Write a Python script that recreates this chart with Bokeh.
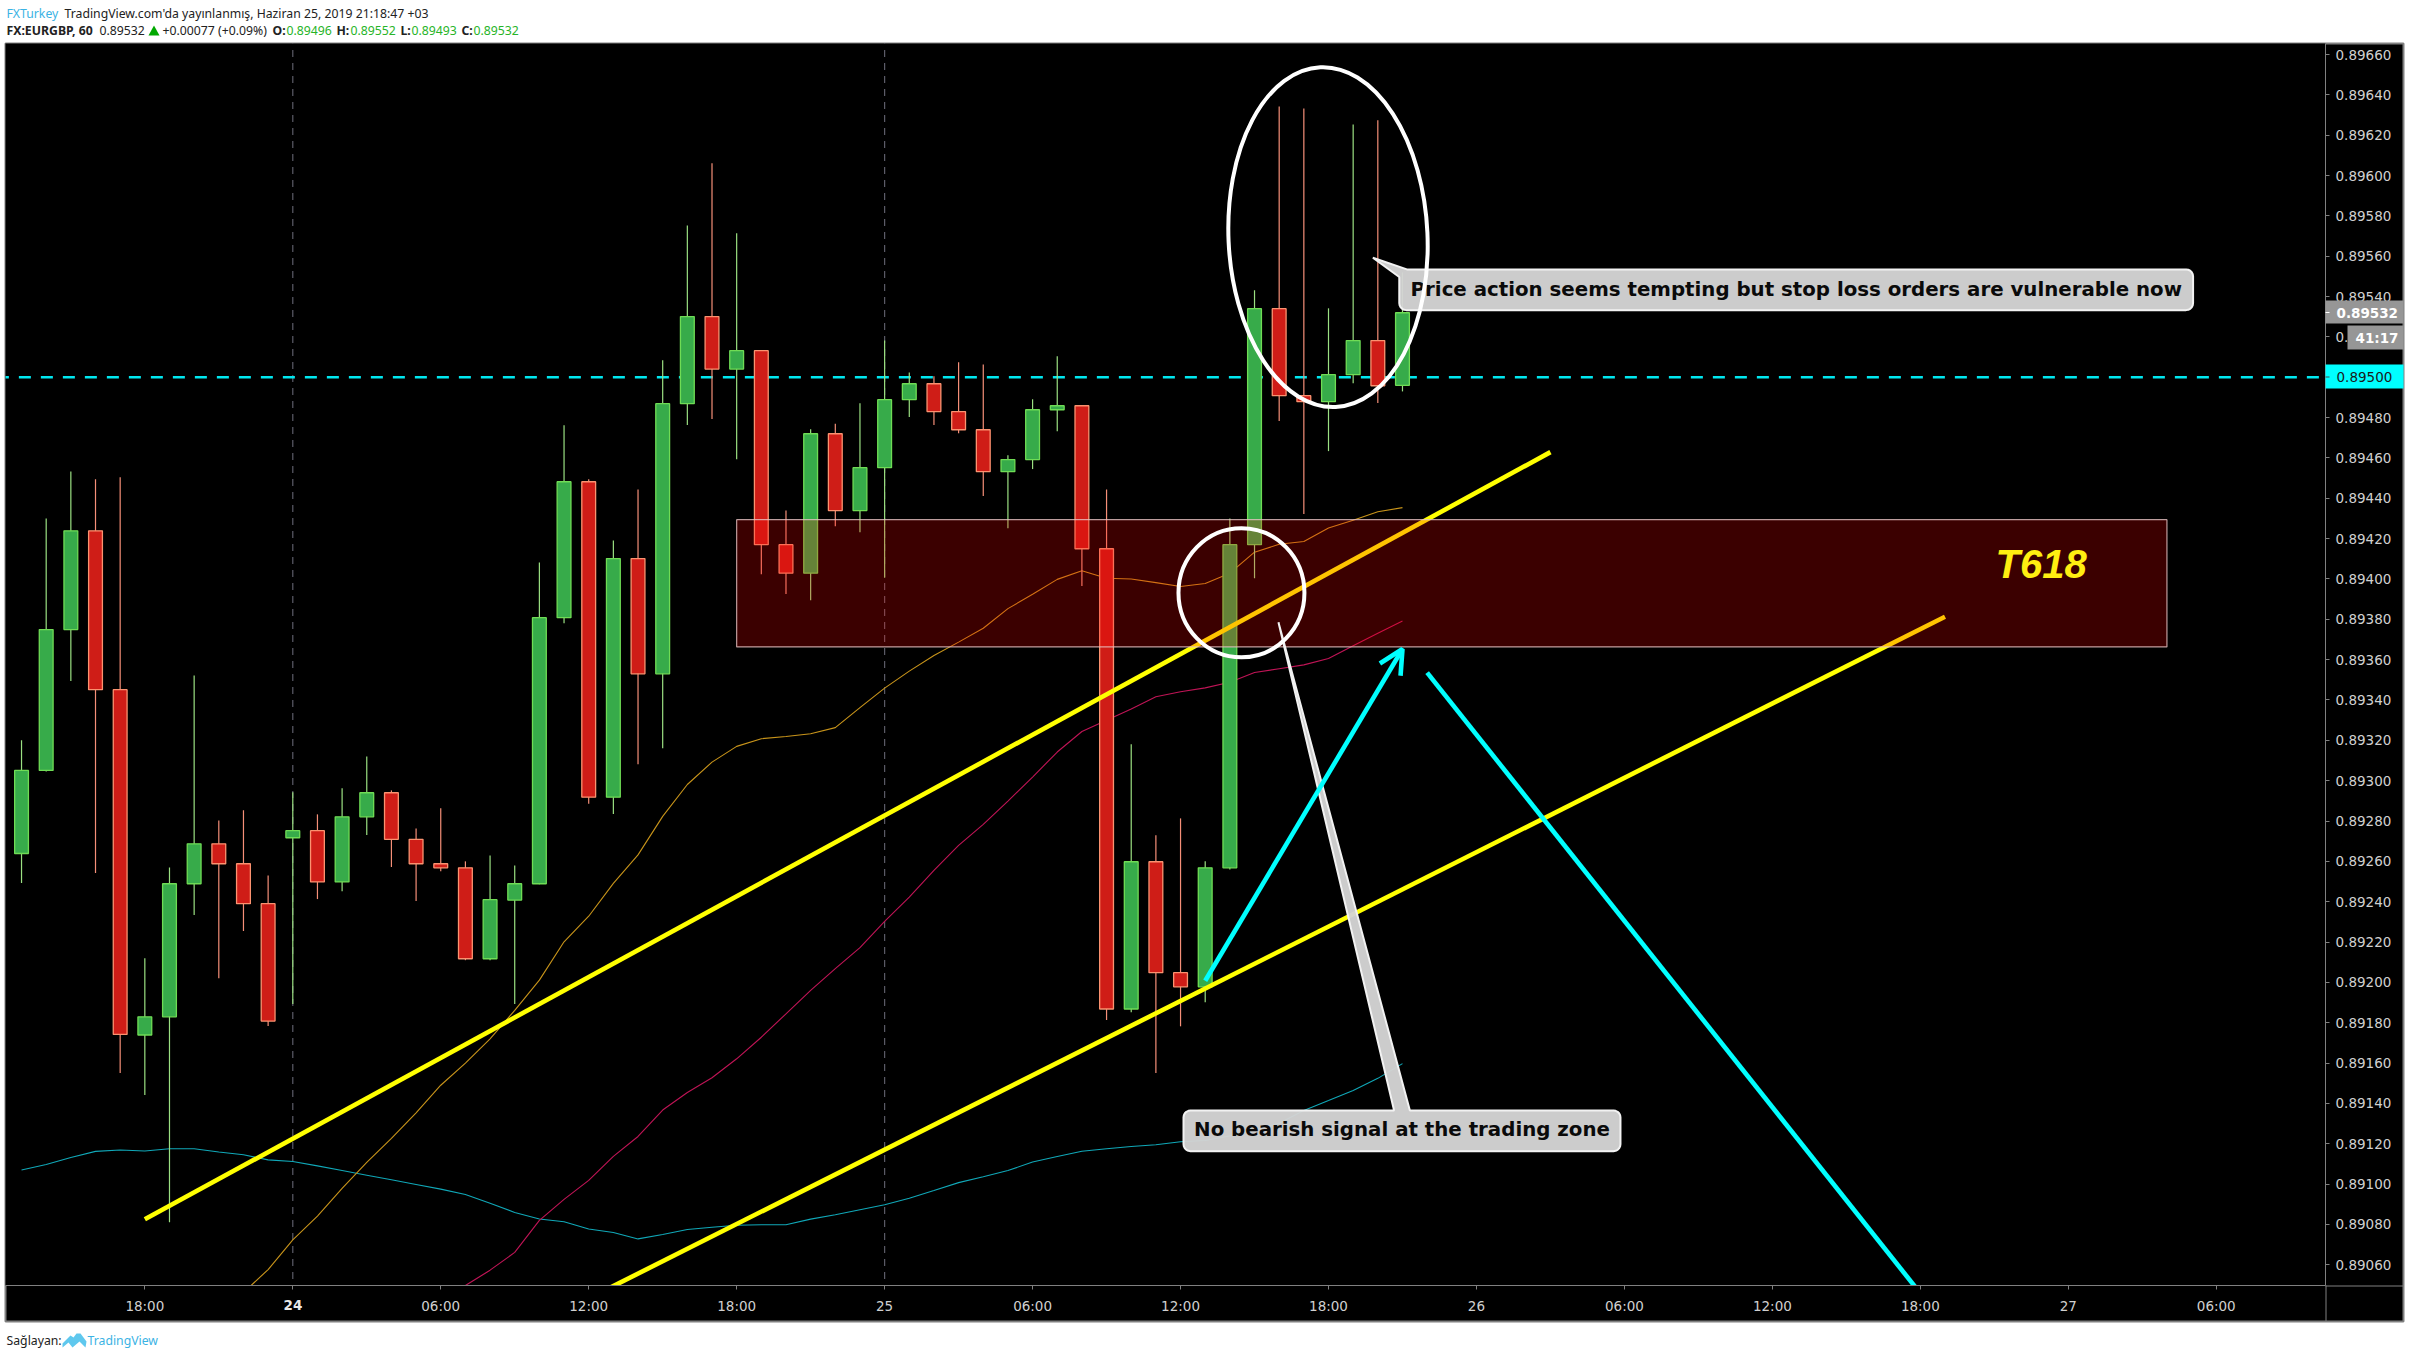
from bokeh.plotting import figure
from bokeh.embed import file_html
from bokeh.resources import INLINE
from bokeh.core.properties import value
from bokeh.models import (Range1d, FixedTicker, NumeralTickFormatter,
                          ColumnDataSource, Arrow, OpenHead)

# ---- candles (hour offsets from 24 June 00:00, 60 min bars) ----
FIRST_HOUR = -11
OPENS = [.892639,.893051,.893749,.894239,.893451,.891739,.891829,.892489,.892687,.892588,.892390,.892717,.892752,.892498,.892821,.892940,.892709,.892588,.892568,.892117,.892408,.892489,.893808,.894482,.892918,.894101,.893530,.894869,.895301,.895041,.895132,.894170,.894029,.894720,.894339,.894552,.894889,.894968,.894830,.894740,.894532,.894592,.894839,.894859,.894150,.891868,.892598,.892048,.891978,.892568,.894170,.895340,.894909,.894879,.895013,.895182,.89496]
CLOSES = [.893051,.893749,.894239,.893451,.891742,.891829,.892489,.892687,.892588,.892390,.891808,.892752,.892498,.892821,.892940,.892709,.892588,.892568,.892117,.892410,.892489,.893808,.894482,.892918,.894101,.893530,.894869,.895301,.895041,.895132,.894170,.894029,.894720,.894339,.894552,.894889,.894968,.894830,.894740,.894532,.894592,.894839,.894859,.894150,.891868,.892598,.892048,.891978,.892568,.894170,.895340,.894909,.894879,.895013,.895182,.894958,.89532]
HIGHS = [.893200,.894300,.894533,.894494,.894504,.892119,.892570,.893522,.892803,.892853,.892530,.892942,.892833,.892962,.893120,.892952,.892763,.892863,.892600,.892629,.892580,.894082,.894762,.894494,.894191,.894444,.895084,.895753,.896061,.895714,.895132,.894340,.894742,.894770,.894871,.895182,.895024,.895005,.895074,.895064,.894613,.894891,.895104,.894859,.894444,.893180,.892729,.892813,.892600,.894300,.895431,.896343,.896333,.895342,.896254,.896274,.89552]
LOWS = [.892493,.893045,.893494,.892542,.891550,.891441,.890811,.892334,.892021,.892255,.891784,.891893,.892413,.892452,.892731,.892572,.892403,.892551,.892110,.892110,.891893,.892486,.893781,.892885,.892835,.893082,.893161,.894763,.894793,.894594,.894024,.893925,.893895,.894262,.894232,.894006,.894803,.894763,.894723,.894411,.894252,.894545,.894733,.893965,.891813,.891852,.891551,.891782,.891902,.892560,.894004,.894783,.894322,.894634,.894971,.894872,.89493]

# ---- moving averages ----
MA_TEAL = [.891070,.891097,.891132,.891162,.891169,.891164,.891175,.891175,.891159,.891145,.891120,.891112,.891090,.891067,.891044,.891021,.890998,.890975,.890948,.890905,.890859,.890827,.890813,.890777,.890760,.890728,.890750,.890775,.890786,.890796,.890798,.890798,.890826,.890848,.890873,.890897,.890930,.890968,.891007,.891036,.891067,.891109,.891137,.891163,.891175,.891186,.891195,.891210,.891216,.891239,.891269,.891302,.891365,.891414,.891464,.891524,.891597]
MA_ORANGE_START = 9
MA_ORANGE = [.890462,.890576,.890723,.890841,.890978,.891107,.891226,.891353,.891490,.891600,.891720,.891861,.892011,.892201,.892328,.892491,.892632,.892823,.892981,.893092,.893170,.893208,.893219,.893233,.893263,.893362,.893459,.893543,.893621,.893687,.893756,.893853,.893924,.893998,.894041,.894004,.894000,.893982,.893963,.893978,.894029,.894133,.894172,.894186,.894253,.894291,.894333,.894354]
MA_RED_START = 18
MA_RED = [.890497,.890573,.890661,.890820,.890924,.891018,.891137,.891236,.891367,.891454,.891527,.891621,.891728,.891844,.891960,.892068,.892172,.892302,.892423,.892555,.892679,.892783,.892899,.893018,.893142,.893244,.893299,.893355,.893416,.893441,.893460,.893488,.893536,.893555,.893574,.893606,.893669,.893731,.893792]

# ---- drawings ----
LAST_PRICE_LEVEL = 0.895
BAND_HOURS = [18, 76]
BAND_PRICES = [0.893663, 0.894294]
TREND1_H, TREND1_P = [-6, 51], [0.890825, 0.894629]
TREND2_H, TREND2_P = [12, 67], [0.890433, 0.893813]
ARROW_H, ARROW_P = [37, 45], [0.892008, 0.893653]
DOWN_H, DOWN_P = [46, 66], [0.893536, 0.890458]
SMALL_ELL = dict(x=38.47, y=0.893932, w=5.108, h=0.000640)
BIG_ELL = dict(x=41.98, y=0.895695, w=8.07, h=0.001686)
DAY_SEPS = [0, 24]

Y_TICKS = [round(0.8906 + 0.0002 * k, 5) for k in range(31)]
X_LABELS = {-6: "18:00", 0: "", 6: "06:00", 12: "12:00", 18: "18:00", 24: "25", 30: "06:00", 36: "12:00",
            42: "18:00", 48: "26", 54: "06:00", 60: "12:00", 66: "18:00", 72: "27", 78: "06:00"}

PX_X, PX_Y = 24.665, 201670.0
W, H = 2410, 1358
FL, FR, FT, FB = 5, 2325, 43, 1285
GRAY = "#808080"
TICKFONT = "DejaVu Sans"
ABS = {"position": "absolute", "left": "0px", "top": "0px"}


def page_figure():
    f = figure(width=W, height=H, x_range=Range1d(0, W), y_range=Range1d(H, 0), output_backend="svg",
               toolbar_location=None, x_axis_location=None, y_axis_location=None,
               min_border=0, min_border_left=0, min_border_right=0, min_border_top=0, min_border_bottom=0,
               background_fill_alpha=0, border_fill_alpha=0, outline_line_color=None)
    f.styles = dict(ABS)
    f.grid.visible = False
    return f


# ---- base layer: black chart surround, in page pixels ----
b = page_figure()
b.quad(left=5, right=2403, top=43, bottom=1321, fill_color="black", line_color=GRAY, line_width=2)

# ---- main chart ----
p = figure(width=W, height=H, x_range=Range1d(-11.65, 82.43), y_range=Range1d(0.890497, 0.896655),
           y_axis_location="right", output_backend="svg", toolbar_location=None,
           min_border_left=FL, min_border_right=W - FR, min_border_top=FT, min_border_bottom=H - FB,
           background_fill_color="black", border_fill_alpha=0, outline_line_color=None)
p.styles = dict(ABS)
p.grid.visible = False

p.yaxis.ticker = FixedTicker(ticks=Y_TICKS)
p.yaxis.formatter = NumeralTickFormatter(format="0.00000")
p.xaxis.ticker = FixedTicker(ticks=list(X_LABELS))
p.xaxis.major_label_overrides = X_LABELS
for ax in (p.xaxis[0], p.yaxis[0]):
    ax.axis_line_color = GRAY
    ax.major_tick_line_color = GRAY
    ax.major_tick_in = 0
    ax.major_tick_out = 4
    ax.minor_tick_line_color = None
    ax.major_label_text_color = "#d0d0d0"
    ax.major_label_text_font = TICKFONT
    ax.major_label_text_font_size = "13.5px"
p.yaxis.major_label_standoff = 6
p.xaxis.major_label_standoff = 8

# day separators and last-price dashed line
p.segment(x0=DAY_SEPS, x1=DAY_SEPS, y0=[0.8904] * 2, y1=[0.8968] * 2, line_color="#5c5c68", line_width=1.2, line_dash="7 6")
p.line(x=[-12, 83], y=[LAST_PRICE_LEVEL] * 2, line_color="#00e8f0", line_width=2.4, line_dash="12 10")

# moving averages
hours = [FIRST_HOUR + i for i in range(len(OPENS))]
p.line(hours, MA_TEAL, line_color="#10a8b8", line_width=1.1)
p.line(hours[MA_ORANGE_START:], MA_ORANGE, line_color="#c8941a", line_width=1.1)
p.line(hours[MA_RED_START:], MA_RED, line_color="#c01456", line_width=1.1)

# candles
ups = [c >= o_ for o_, c in zip(OPENS, CLOSES)]
src = ColumnDataSource(dict(
    x=hours, high=HIGHS, low=LOWS,
    top=[max(o_, c) for o_, c in zip(OPENS, CLOSES)],
    bottom=[min(o_, c) for o_, c in zip(OPENS, CLOSES)],
    fill=["#37ab4a" if u else "#cf1d17" for u in ups],
    edge=["#6fdc55" if u else "#fb9270" for u in ups],
    wick=["#9be082" if u else "#f58f78" for u in ups]))
p.segment(x0="x", x1="x", y0="low", y1="high", line_color="wick", line_width=1.2, source=src)
p.vbar(x="x", width=0.56, top="top", bottom="bottom", fill_color="fill", line_color="edge", line_width=1.3, source=src)

# channel lines
p.line(TREND1_H, TREND1_P, line_color="#ffff00", line_width=4.6)
p.line(TREND2_H, TREND2_P, line_color="#ffff00", line_width=4.6)

# trading zone
p.quad(left=BAND_HOURS[0], right=BAND_HOURS[1], bottom=BAND_PRICES[0], top=BAND_PRICES[1],
       fill_color="#ff0000", fill_alpha=0.23, line_color="#e8c4c4", line_alpha=0.8, line_width=1.2)
p.text(x=[70.9], y=[0.894072], text=["T618"], text_color="#ffee11", text_font=value("Liberation Sans"),
       text_font_size="40px", text_font_style="bold italic", text_align="center", text_baseline="middle")

# cyan drawings
p.add_layout(Arrow(x_start=ARROW_H[0], y_start=ARROW_P[0], x_end=ARROW_H[1], y_end=ARROW_P[1], line_color="#00ffff",
                   line_width=4.6, end=OpenHead(size=24, line_color="#00ffff", line_width=4.6)))
p.line(DOWN_H, DOWN_P, line_color="#00ffff", line_width=4.6)


# callouts
def rounded(x0, x1, y0, y1, r=7, n=5):
    """clockwise outline starting at top-left, y in price (y1 top)"""
    import math
    rx, ry = r / PX_X, r / PX_Y
    xs, ys = [], []
    for cx, cy, a0 in [(x0 + rx, y1 - ry, 180), (x1 - rx, y1 - ry, 90), (x1 - rx, y0 + ry, 0), (x0 + rx, y0 + ry, -90)]:
        for k in range(n + 1):
            a = math.radians(a0 - 90 * k / n)
            xs.append(cx + rx * math.cos(a))
            ys.append(cy + ry * math.sin(a))
    return xs, ys


C1 = dict(x0=44.87, x1=77.06, y0=0.895333, y1=0.895535, apex=(43.80, 0.895593))
C2 = dict(x0=36.12, x1=53.84, y0=0.891163, y1=0.891365, apex=(39.97, 0.893786), base=(44.66, 45.30))
x1s, y1s = rounded(C1["x0"], C1["x1"], C1["y0"], C1["y1"])
# replace the top-left corner by the pointer
x1s = [C1["apex"][0], 45.18] + x1s[6:] + [C1["x0"], C1["apex"][0]]
y1s = [C1["apex"][1], C1["y1"]] + y1s[6:] + [0.895497, C1["apex"][1]]
x2s, y2s = rounded(C2["x0"], C2["x1"], C2["y0"], C2["y1"])
x2s = x2s[:6] + [C2["base"][0], C2["apex"][0], C2["base"][1]] + x2s[6:]
y2s = y2s[:6] + [C2["y1"], C2["apex"][1], C2["y1"]] + y2s[6:]
for xs, ys in ((x1s, y1s), (x2s, y2s)):
    p.patch(xs, ys, fill_color="#d4d4d4", fill_alpha=0.96, line_color="#f2f2f2", line_width=2)
p.text(x=[60.97], y=[0.895433], text=["Price action seems tempting but stop loss orders are vulnerable now"],
       text_color="#0a0a0a", text_font=value("DejaVu Sans"), text_font_size="19.8px", text_font_style="bold",
       text_align="center", text_baseline="middle")
p.text(x=[44.98], y=[0.891271], text=["No bearish signal at the trading zone"],
       text_color="#0a0a0a", text_font=value("DejaVu Sans"), text_font_size="19.8px", text_font_style="bold",
       text_align="center", text_baseline="middle")

# ellipses
for e, ang in ((SMALL_ELL, 0.0), (BIG_ELL, 0.045)):
    p.ellipse(x=[e["x"]], y=[e["y"]], width=[e["w"]], height=[e["h"]], angle=ang, fill_alpha=0,
              line_color="#ffffff", line_width=4)

# ---- top layer: page furniture, in page pixels ----
o = page_figure()


def box(l, r, t, b_, fill):
    o.quad(left=l, right=r, top=t, bottom=b_, fill_color=fill, line_color=None)


def lab(text, x, y, color="#222222", size="12.25px", bold=False, align="left", font="Noto Sans"):
    o.text(x=[x], y=[y], text=[text], text_color=color, text_font=value(font), text_font_size=size,
           text_font_style="bold" if bold else "normal", text_align=align, text_baseline="middle")


# bold day label on the x axis
lab("24", 292.4, 1304.5, "#e8e8e8", "13.5px", True, "center", TICKFONT)

# axis extensions
box(FR, FR + 1, FB, 1321, GRAY)
box(FR, 2403, FB, FB + 1, GRAY)

# price scale tags
box(FR, 2403, 300, 323, "#969696")
box(FR, FR + 4, 311.5, 312.5, "#ffffff")
lab("0.89532", 2336, 312, "#ffffff", "13.5px", True, font=TICKFONT)
box(2347, 2403, 325, 349, "#969696")
lab("41:17", 2355, 337, "#ffffff", "13.5px", True, font=TICKFONT)
box(FR, 2403, 364, 388, "#00ffff")
box(FR, FR + 4, 376, 377, "#444444")
lab("0.89500", 2336, 376, "#1a1a1a", "13.5px", font=TICKFONT)

# header
lab("FXTurkey", 6, 12.5, "#3bb3e4")
lab("TradingView.com'da yayınlanmış, Haziran 25, 2019 21:18:47 +03", 64, 12.5)
lab("FX:EURGBP, 60", 6, 29.5, bold=True)
lab("0.89532", 99, 29.5)
o.patch([153.5, 159, 148], [25, 35, 35], fill_color="#00a800", line_color=None)
lab("+0.00077 (+0.09%)", 162, 29.5)
GREEN = "#27b427"
for letter, lx, val, vx in (("O:", 272, "0.89496", 286), ("H:", 336, "0.89552", 350),
                            ("L:", 400, "0.89493", 411), ("C:", 461, "0.89532", 473)):
    lab(letter, lx, 29.5, bold=True)
    lab(val, vx, 29.5, GREEN)

# footer
lab("Sağlayan:", 6, 1340)
o.patch([62, 70, 73, 76, 80, 86, 85, 79, 72, 68, 62], [1343, 1335, 1337, 1333, 1333, 1341, 1347, 1341, 1347, 1342, 1347],
        fill_color="#5fc8ee", line_color=None)
lab("TradingView", 87, 1340, "#3bb3e4")

open("out.html", "w").write(file_html([b, p, o], INLINE))
